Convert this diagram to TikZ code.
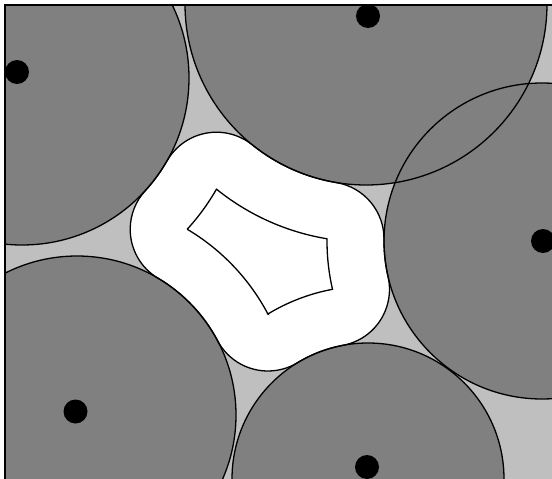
\documentclass[tikz,border=0pt]{standalone}
\usetikzlibrary{calc}
\definecolor{darkg}{gray}{0.5}
\definecolor{lightg}{gray}{0.75}
\begin{document}
\begin{tikzpicture}[x=1pt,y=-1pt,
  obstacle/.style={fill=darkg},
  rim/.style={draw=black,line width=1.3pt},
  site/.style={fill=black},
  reach/.style={fill=white,draw=black,line width=1.3pt,line join=round},
  free/.style={draw=black,line width=1.3pt}]
\useasboundingbox (0,0) rectangle (552,479);
\fill[white] (0,0) rectangle (552,479);
% circle centres
\coordinate (C1) at (22,78);
\coordinate (C2) at (366,4);
\coordinate (C3) at (542,241);
\coordinate (C4) at (368,479);
\coordinate (C5) at (77,415);
% vertices of the free region
\coordinate (V1) at (216.5,189.2);
\coordinate (V2) at (187.2,229.3);
\coordinate (V3) at (267.9,314.0);
\coordinate (V4) at (332.5,289.3);
\coordinate (V5) at (327.0,238.8);
% sites
\coordinate (S1) at (17,72);
\coordinate (S2) at (368,16);
\coordinate (S3) at (543,241);
\coordinate (S4) at (367,467);
\coordinate (S5) at (75.5,411.5);
\begin{scope}
\clip (5,5) rectangle (552,479);
\fill[lightg] (5,5) rectangle (552,479);
\foreach \c/\r in {C1/167,C2/181,C3/158,C4/136,C5/159}
  \fill[obstacle] (\c) circle[radius=\r];
\path[reach]
  ($(C2)+(128.91:181)$) arc[start angle=128.91, end angle=99.43, radius=181]
  -- ($(V5)+(-80.57:57)$) arc[start angle=-80.57, end angle=0.59, radius=57]
  -- ($(C3)+(180.59:158)$) arc[start angle=180.59, end angle=167.02, radius=158]
  -- ($(V4)+(-12.98:57)$) arc[start angle=-12.98, end angle=79.40, radius=57]
  -- ($(C4)+(259.40:136)$) arc[start angle=259.40, end angle=238.76, radius=136]
  -- ($(V3)+(58.76:57)$) arc[start angle=58.76, end angle=152.12, radius=57]
  -- ($(C5)+(-27.88:159)$) arc[start angle=-27.88, end angle=-59.32, radius=159]
  -- ($(V2)+(120.68:57)$) arc[start angle=120.68, end angle=222.49, radius=57]
  -- ($(C1)+(42.49:167)$) arc[start angle=42.49, end angle=29.76, radius=167]
  -- ($(V1)+(209.76:57)$) arc[start angle=209.76, end angle=308.91, radius=57]
  -- cycle;
\foreach \c/\r in {C1/167,C2/181,C3/158,C4/136,C5/159}
  \draw[rim] (\c) circle[radius=\r];
\draw[free]
  ($(C2)+(128.91:238)$) arc[start angle=128.91, end angle=99.43, radius=238]
  -- ($(C3)+(180.59:215)$) arc[start angle=180.59, end angle=167.02, radius=215]
  -- ($(C4)+(259.40:193)$) arc[start angle=259.40, end angle=238.76, radius=193]
  -- ($(C5)+(-27.88:216)$) arc[start angle=-27.88, end angle=-59.32, radius=216]
  -- ($(C1)+(42.49:224)$) arc[start angle=42.49, end angle=29.76, radius=224]
  -- cycle;
\foreach \s in {S1,S2,S3,S4,S5}
  \fill[site] (\s) circle[radius=12];
\end{scope}
\draw[line width=1.8pt] (4.6,479) -- (4.6,4.6) -- (552,4.6);
\end{tikzpicture}
\end{document}
